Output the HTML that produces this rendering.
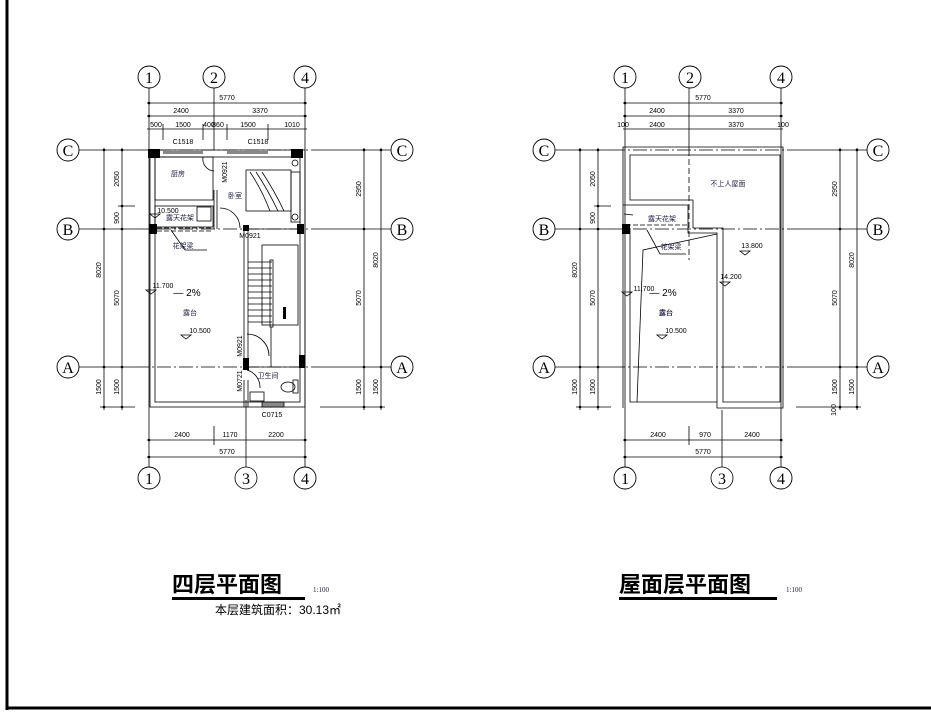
<!DOCTYPE html>
<html><head><meta charset="utf-8"><style>
html,body{margin:0;padding:0;background:#fff;}
svg{display:block;}
text{font-family:"Liberation Sans","Noto Sans CJK SC",sans-serif;}
text.bub{font-family:"Liberation Serif",serif;font-size:16px;}
text.ttl{font-family:"Noto Sans CJK SC",sans-serif;font-size:22px;font-weight:bold;}
text.sc{font-family:"Liberation Serif",serif;font-size:7px;fill:#224;}
text.area{font-family:"Liberation Sans","Noto Sans CJK SC",sans-serif;font-size:12px;}
.t{font-size:7px;fill:#000;}
.c{font-size:7px;fill:#224;}
</style></head><body>
<svg width="931" height="714" viewBox="0 0 931 714" xmlns="http://www.w3.org/2000/svg">
<rect width="931" height="714" fill="#fff"/>
<line x1="7" y1="0" x2="7" y2="710" stroke="#000" stroke-width="3"/>
<line x1="6" y1="708" x2="931" y2="708" stroke="#000" stroke-width="3"/>

<defs>
<g id="grid">
<g stroke="#000" stroke-width="0.8" fill="none">
<line x1="149" y1="88" x2="149" y2="467"/>
<line x1="305" y1="88" x2="305" y2="467"/>
<line x1="79" y1="150" x2="135" y2="150"/><line x1="79" y1="229" x2="135" y2="229"/><line x1="79" y1="367" x2="135" y2="367"/>
<line x1="320" y1="150" x2="391" y2="150"/><line x1="320" y1="229" x2="391" y2="229"/><line x1="320" y1="367" x2="391" y2="367"/>
<line x1="135" y1="150" x2="320" y2="150" stroke-dasharray="14,3,2,3"/>
<line x1="135" y1="229" x2="320" y2="229" stroke-dasharray="14,3,2,3"/>
<line x1="135" y1="367" x2="320" y2="367" stroke-dasharray="14,3,2,3"/>
<line x1="104" y1="148" x2="104" y2="410"/><line x1="122" y1="148" x2="122" y2="410"/>
<line x1="100" y1="407" x2="135" y2="407"/>
<line x1="118" y1="206" x2="135" y2="206"/>
<line x1="364" y1="148" x2="364" y2="410"/><line x1="381" y1="148" x2="381" y2="410"/>
<line x1="320" y1="407" x2="385" y2="407"/>
<line x1="147" y1="103" x2="307" y2="103"/><line x1="147" y1="116" x2="307" y2="116"/>
<line x1="147" y1="440" x2="307" y2="440"/><line x1="147" y1="457" x2="307" y2="457"/>
</g>
<g fill="#000">
<circle cx="104" cy="150" r="1.3"/><circle cx="104" cy="229" r="1.3"/><circle cx="104" cy="367" r="1.3"/><circle cx="104" cy="407" r="1.3"/>
<circle cx="122" cy="150" r="1.3"/><circle cx="122" cy="206" r="1.3"/><circle cx="122" cy="229" r="1.3"/><circle cx="122" cy="367" r="1.3"/><circle cx="122" cy="407" r="1.3"/>
<circle cx="364" cy="150" r="1.3"/><circle cx="364" cy="229" r="1.3"/><circle cx="364" cy="367" r="1.3"/><circle cx="364" cy="407" r="1.3"/>
<circle cx="381" cy="150" r="1.3"/><circle cx="381" cy="367" r="1.3"/><circle cx="381" cy="407" r="1.3"/>
<circle cx="149" cy="103" r="1.3"/><circle cx="305" cy="103" r="1.3"/><circle cx="149" cy="116" r="1.3"/><circle cx="305" cy="116" r="1.3"/>
<circle cx="149" cy="440" r="1.3"/><circle cx="305" cy="440" r="1.3"/><circle cx="149" cy="457" r="1.3"/><circle cx="305" cy="457" r="1.3"/>
</g>
<g fill="#fff" stroke="#000" stroke-width="0.9">
<circle cx="149" cy="77" r="11"/><circle cx="214" cy="77" r="11"/><circle cx="305" cy="77" r="11"/>
<circle cx="149" cy="478" r="11"/><circle cx="305" cy="478" r="11"/>
<circle cx="68" cy="150" r="11"/><circle cx="68" cy="229" r="11"/><circle cx="68" cy="367" r="11"/>
<circle cx="402" cy="150" r="11"/><circle cx="402" cy="229" r="11"/><circle cx="402" cy="367" r="11"/>
</g>
<g text-anchor="middle">
<text class="bub" x="149" y="83">1</text><text class="bub" x="214" y="83">2</text><text class="bub" x="305" y="83">4</text>
<text class="bub" x="149" y="484">1</text><text class="bub" x="305" y="484">4</text>
<text class="bub" x="68" y="156">C</text><text class="bub" x="68" y="235">B</text><text class="bub" x="68" y="373">A</text>
<text class="bub" x="402" y="156">C</text><text class="bub" x="402" y="235">B</text><text class="bub" x="402" y="373">A</text>
</g>
<g class="t" text-anchor="middle">
<text x="227" y="100">5770</text>
<text x="181" y="113">2400</text><text x="260" y="113">3370</text>
<text x="227" y="454">5770</text>
<text transform="translate(101,270) rotate(-90)">8020</text>
<text transform="translate(119,179) rotate(-90)">2050</text>
<text transform="translate(119,218) rotate(-90)">900</text>
<text transform="translate(119,298) rotate(-90)">5070</text>
<text transform="translate(101,387) rotate(-90)">1500</text>
<text transform="translate(119,387) rotate(-90)">1500</text>
<text transform="translate(361,189) rotate(-90)">2950</text>
<text transform="translate(378,260) rotate(-90)">8020</text>
<text transform="translate(361,298) rotate(-90)">5070</text>
<text transform="translate(361,387) rotate(-90)">1500</text>
<text transform="translate(378,387) rotate(-90)">1500</text>
<text x="187" y="296" font-size="10">— 2%</text>
<text x="190" y="315" class="c">露台</text>
</g>
</g>
</defs>

<use href="#grid"/>
<g stroke="#000" stroke-width="0.8" fill="none">
<line x1="214" y1="88" x2="214" y2="150"/>
<line x1="246" y1="400" x2="246" y2="467"/>
<line x1="147" y1="129" x2="307" y2="129"/>
<line x1="163" y1="124" x2="163" y2="140"/><line x1="203" y1="124" x2="203" y2="140"/>
<line x1="227" y1="124" x2="227" y2="140"/><line x1="268" y1="124" x2="268" y2="140"/>
<line x1="214" y1="426" x2="214" y2="445"/>
<rect x="150" y="150" width="155" height="257"/>
<rect x="155" y="157" width="145" height="245"/>
<rect x="155" y="157" width="58" height="43"/>
<rect x="155" y="206" width="58" height="21"/>
<line x1="214" y1="190" x2="214" y2="229"/><line x1="217" y1="190" x2="217" y2="229"/>
<rect x="246" y="170" width="45" height="41"/>
<rect x="291" y="172" width="9" height="50"/>
<circle cx="295" cy="163" r="3"/><circle cx="295" cy="217" r="3"/>
<path d="M250 172 Q262 190 270 211 M256 172 Q268 190 278 211 M262 172 Q274 190 284 211"/>
<path d="M203 157 A12 12 0 0 0 214 171"/><path d="M220 208 A20 20 0 0 1 240 228"/>
<line x1="244" y1="229" x2="244" y2="360"/><line x1="248" y1="229" x2="248" y2="360"/>
<line x1="248" y1="229" x2="300" y2="229"/>
<rect x="262" y="245" width="36" height="80"/>
<path d="M248 262 H272 M248 268 H272 M248 274 H272 M248 280 H272 M248 286 H272 M248 292 H272 M248 298 H272 M248 304 H272 M248 310 H272 M248 316 H272 M248 322 H272"/>
<rect x="270" y="260" width="3" height="67"/>
<line x1="271" y1="327" x2="271" y2="367"/>
<path d="M247 334 A22 22 0 0 1 269 356"/>
<line x1="248" y1="367" x2="300" y2="367"/>
<path d="M247 370 A18 18 0 0 1 260 388"/>
<line x1="244" y1="380" x2="244" y2="407"/><line x1="248" y1="380" x2="248" y2="407"/>
<rect x="250" y="392" width="14" height="9"/>
<ellipse cx="288" cy="387" rx="7" ry="5"/><rect x="293" y="380" width="5" height="13"/>
<rect x="262" y="402" width="22" height="5" fill="#888"/>
<line x1="157" y1="228" x2="212" y2="228" stroke-dasharray="5,2"/>
<line x1="157" y1="231" x2="212" y2="231" stroke-dasharray="5,2"/>
<path d="M171 230 L185 250 H207"/>
<rect x="197" y="207" width="14" height="14"/>
</g>
<g fill="#000">
<rect x="148" y="149" width="12" height="9"/><rect x="291" y="149" width="12" height="9"/>
<rect x="149" y="224" width="8" height="10"/><rect x="243" y="225" width="6" height="6"/><rect x="297" y="224" width="7" height="10"/>
<rect x="243" y="358" width="6" height="12"/><rect x="299" y="355" width="6" height="13"/>
<rect x="283" y="307" width="3" height="12"/>
</g>
<rect x="163" y="151" width="40" height="3" fill="#888"/><rect x="227" y="151" width="41" height="3" fill="#888"/>
<g class="t" text-anchor="middle" font-size="6">
<text x="156" y="127">500</text><text x="183" y="127">1500</text><text x="209" y="127">400</text><text x="218" y="127">860</text><text x="248" y="127">1500</text><text x="292" y="127">1010</text>
<text x="183" y="144">C1518</text><text x="258" y="144">C1518</text>
<text x="182" y="437">2400</text><text x="230" y="437">1170</text><text x="276" y="437">2200</text>
<text x="272" y="417">C0715</text>
<text transform="translate(227,172) rotate(-90)">M0921</text>
<text transform="translate(242,346) rotate(-90)">M0921</text>
<text transform="translate(242,381) rotate(-90)">M0721</text>
<text x="250" y="238">M0921</text>
<text x="168" y="213">10.500</text><text x="163" y="288">11.700</text><text x="200" y="333">10.500</text>
</g>
<g class="c" text-anchor="middle">
<text x="178" y="176">厨房</text><text x="235" y="198">卧室</text><text x="180" y="220">露天花架</text><text x="183" y="248">花架梁</text><text x="268" y="378">卫生间</text>
</g>
<g stroke="#000" stroke-width="0.8" fill="none">
<path d="M150 214 h10 l-5 4 z M146 290 h10 l-5 4z M181 335 h10 l-5 4z"/>
<circle cx="246" cy="478" r="11" fill="#fff"/>
</g>
<text class="bub" x="246" y="484" text-anchor="middle">3</text>

<use href="#grid" x="476"/>
<g stroke="#000" stroke-width="0.8" fill="none">
<line x1="689" y1="88" x2="689" y2="150"/>
<line x1="722" y1="410" x2="722" y2="467"/>
<line x1="623" y1="129" x2="783" y2="129"/>
<line x1="689" y1="426" x2="689" y2="445"/>
<path d="M623 147 H783 V408 H717 V233 H688 V205 H623 Z"/>
<path d="M630 155 H780 V402 H723 V228 H693 V200 H630 Z"/>
<path d="M630 228 V402 H717"/>
<path d="M623 205 V408"/>
<path d="M637 402 L643 250 L717 234"/>
<line x1="689" y1="150" x2="689" y2="260" stroke-dasharray="6,3"/>
<line x1="626" y1="225" x2="688" y2="225" stroke-dasharray="5,2"/>
<path d="M647 230 L660 254 H686"/>
<path d="M624 214 L633 215"/>
</g>
<rect x="622" y="224" width="8" height="10" fill="#000"/>
<g class="t" text-anchor="middle" font-size="6">
<text x="623" y="127">100</text><text x="657" y="127">2400</text><text x="736" y="127">3370</text><text x="783" y="127">100</text>
<text x="658" y="437">2400</text><text x="705" y="437">970</text><text x="752" y="437">2400</text>
<text x="644" y="291">11.700</text><text x="676" y="333">10.500</text><text x="752" y="248">13.800</text><text x="731" y="279">14.200</text>
<text transform="translate(836,410) rotate(-90)">100</text>
</g>
<g class="c" text-anchor="middle">
<text x="728" y="186">不上人屋面</text><text x="662" y="221">露天花架</text><text x="671" y="249">花架梁</text><text x="666" y="315">露台</text>
</g>
<g stroke="#000" stroke-width="0.8" fill="none">
<path d="M622 292 h10 l-5 4z M657 335 h10 l-5 4z M740 251 h10 l-5 4z M720 282 h10 l-5 4z"/>
<circle cx="722" cy="478" r="11" fill="#fff"/>
</g>
<text class="bub" x="722" y="484" text-anchor="middle">3</text>

<text class="ttl" x="172" y="592">四层平面图</text>
<rect x="172" y="597" width="133" height="3" fill="#000"/>
<text class="sc" x="313" y="592">1:100</text>
<text class="area" x="215" y="614">本层建筑面积：30.13㎡</text>
<text class="ttl" x="619" y="592">屋面层平面图</text>
<rect x="619" y="597" width="158" height="3" fill="#000"/>
<text class="sc" x="786" y="592">1:100</text>
</svg>
</body></html>
